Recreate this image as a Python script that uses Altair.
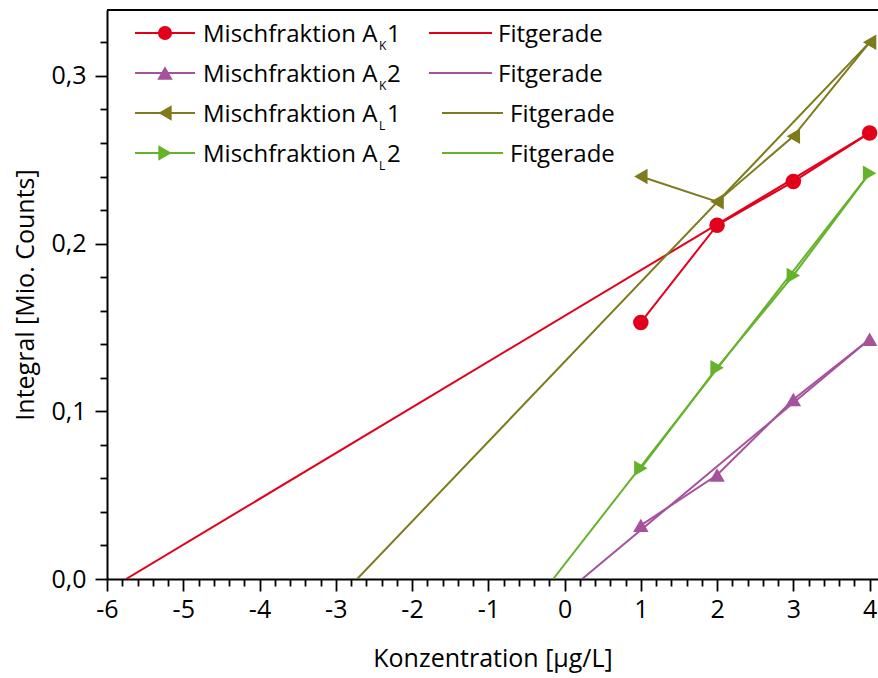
import altair as alt
import pandas as pd

# ---- data ----
conc = [1, 2, 3, 4]
series_names = ["AK1", "AK2", "AL1", "AL2"]
vals_ak1 = [0.153, 0.211, 0.237, 0.266]
vals_ak2 = [0.032, 0.062, 0.107, 0.143]
vals_al1 = [0.240, 0.225, 0.264, 0.320]
vals_al2 = [0.066, 0.126, 0.181, 0.242]

# fit lines: x-intercept (y=0) and value at x=4
fit_x0 = [-5.75, 0.23, -2.72, -0.15]
fit_x1 = [4, 4, 4, 4]
fit_y0 = [0, 0, 0, 0]
fit_y1 = [0.266, 0.143, 0.320, 0.242]

legend_main = ["Mischfraktion A", "Mischfraktion A", "Mischfraktion A", "Mischfraktion A"]
legend_sub = ["K", "K", "L", "L"]
legend_num = ["1", "2", "1", "2"]
fit_label = "Fitgerade"

x_ticks = [round(-6 + 0.2 * i, 1) for i in range(51)]
y_ticks = [round(0.02 * i, 2) for i in range(17)]

colors = ["#e2001a", "#a5529b", "#7e7b1d", "#65b22b"]
shapes = ["circle", "triangle-up", "triangle-left", "triangle-right"]
sizes = [200, 240, 240, 240]

FONT = "Open Sans"
W, H = 771, 569

all_vals = [vals_ak1, vals_ak2, vals_al1, vals_al2]
rows = []
for name, vals in zip(series_names, all_vals):
    for xv, yv in zip(conc, vals):
        rows.append({"series": name, "x": xv, "y": yv})
df = pd.DataFrame(rows)

fit_rows = []
for name, a, b, c, d in zip(series_names, fit_x0, fit_x1, fit_y0, fit_y1):
    fit_rows.append({"series": name, "x": a, "y": c, "o": 0})
    fit_rows.append({"series": name, "x": b, "y": d, "o": 1})
fdf = pd.DataFrame(fit_rows)

xscale = alt.Scale(domain=[-6, 4.11], nice=False, zero=False)
yscale = alt.Scale(domain=[0, 0.3393], nice=False, zero=False)
cscale = alt.Scale(domain=series_names, range=colors)
sscale = alt.Scale(domain=series_names, range=shapes)

major_x = "abs(datum.value - round(datum.value)) < 0.001"
major_y = "abs(datum.value * 10 - round(datum.value * 10)) < 0.001"

xaxis = alt.Axis(
    title="Konzentration [µg/L]",
    values=x_ticks, tickCount=200,
    labelExpr=f"{major_x} ? toString(round(datum.value)) : ''",
    tickSize={"condition": {"test": major_x, "value": 12}, "value": 7},
    grid=False, labelOverlap=False, labelFlush=False,
    labelFont=FONT, labelFontSize=25, labelColor="black", labelPadding=6,
    titleFont=FONT, titleFontSize=25, titleFontWeight="normal", titleColor="black",
    titlePadding=24,
    domainColor="black", domainWidth=2, tickColor="black", tickWidth=1.8,
)
yaxis = alt.Axis(
    title="Integral [Mio. Counts]",
    values=y_ticks, tickCount=200,
    labelExpr=f"{major_y} ? replace(format(datum.value, '.1f'), '.', ',') : ''",
    tickSize={"condition": {"test": major_y, "value": 12}, "value": 7},
    grid=False, labelOverlap=False, labelFlush=False,
    labelFont=FONT, labelFontSize=25, labelColor="black", labelPadding=9,
    titleFont=FONT, titleFontSize=25, titleFontWeight="normal", titleColor="black",
    titlePadding=12,
    domainColor="black", domainWidth=2, tickColor="black", tickWidth=1.8,
)

fit = alt.Chart(fdf).mark_line(strokeWidth=2, clip=True).encode(
    x=alt.X("x:Q", scale=xscale, axis=xaxis),
    y=alt.Y("y:Q", scale=yscale, axis=yaxis),
    color=alt.Color("series:N", scale=cscale, legend=None),
    order="o:Q",
)
lines = alt.Chart(df).mark_line(strokeWidth=2, clip=True).encode(
    x=alt.X("x:Q", scale=xscale),
    y=alt.Y("y:Q", scale=yscale),
    color=alt.Color("series:N", scale=cscale, legend=None),
    order="x:Q",
)
pts = alt.Chart(df).mark_point(filled=True, opacity=1, clip=True).encode(
    x=alt.X("x:Q", scale=xscale),
    y=alt.Y("y:Q", scale=yscale),
    color=alt.Color("series:N", scale=cscale, legend=None),
    shape=alt.Shape("series:N", scale=sscale, legend=None),
    size=alt.value(240),
)

one = pd.DataFrame({"a": [0]})
top_border = alt.Chart(one).mark_rule(color="black", strokeWidth=2).encode(
    x=alt.value(0), x2=alt.value(W), y=alt.value(0)
)

layers = [fit, lines, pts, top_border]

# ---- hand-built legend (to allow subscripts) ----
LF = 24
for i in range(4):
    cy = 23 + 40 * i
    col = colors[i]
    layers.append(alt.Chart(one).mark_rule(color=col, strokeWidth=2).encode(
        x=alt.value(28), x2=alt.value(88), y=alt.value(cy)))
    layers.append(alt.Chart(one).mark_point(filled=True, opacity=1, color=col,
                                            shape=shapes[i], size=sizes[i]).encode(
        x=alt.value(58), y=alt.value(cy)))
    layers.append(alt.Chart(one).mark_text(text=legend_main[i], font=FONT, fontSize=LF,
                                           fontWeight=500, align="left", baseline="alphabetic",
                                           color="black").encode(
        x=alt.value(96), y=alt.value(cy + 9)))
    layers.append(alt.Chart(one).mark_text(text=legend_sub[i], font=FONT, fontSize=12,
                                           fontWeight=500, align="left", baseline="alphabetic",
                                           color="black").encode(
        x=alt.value(272), y=alt.value(cy + 17)))
    layers.append(alt.Chart(one).mark_text(text=legend_num[i], font=FONT, fontSize=LF,
                                           fontWeight=500, align="left", baseline="alphabetic",
                                           color="black").encode(
        x=alt.value(280), y=alt.value(cy + 9)))
    fx0, fx1, tx = (322, 385, 391) if i < 2 else (335, 396, 403)
    layers.append(alt.Chart(one).mark_rule(color=col, strokeWidth=2).encode(
        x=alt.value(fx0), x2=alt.value(fx1), y=alt.value(cy)))
    layers.append(alt.Chart(one).mark_text(text=fit_label, font=FONT, fontSize=LF,
                                           fontWeight=500, align="left", baseline="alphabetic",
                                           color="black").encode(
        x=alt.value(tx), y=alt.value(cy + 9)))

chart = alt.layer(*layers).properties(
    width=W, height=H,
    padding={"left": 107, "top": 10, "right": 0, "bottom": 99},
    autosize=alt.AutoSizeParams(type="none"),
    background="white",
).configure_view(stroke=None)

chart.save("out.html", embed_options={"renderer": "svg", "actions": False})
